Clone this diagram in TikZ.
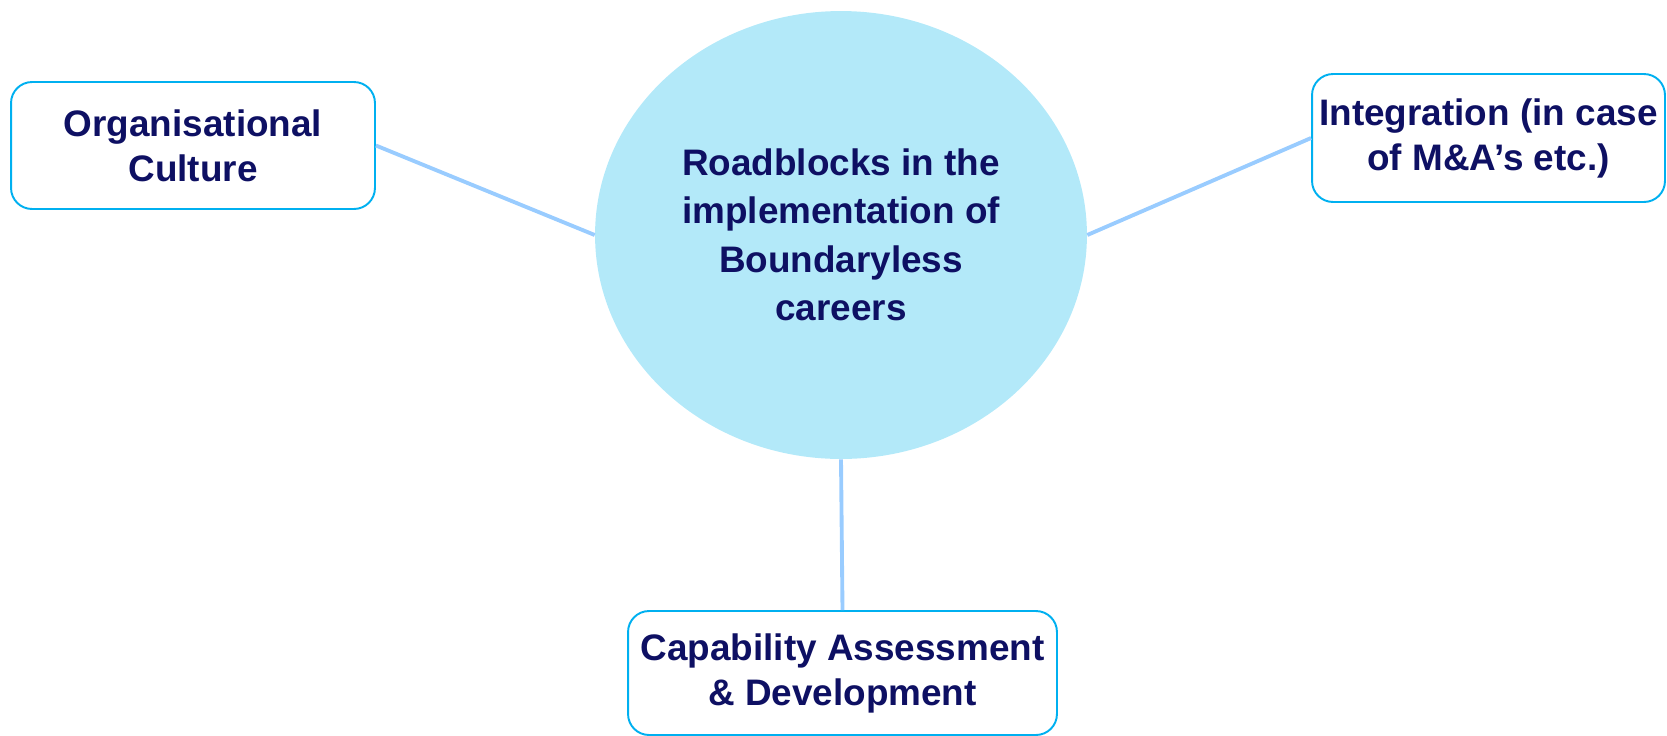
\documentclass[tikz,border=0pt]{standalone}
\usepackage{fontspec}
\setmainfont{Liberation Sans}
\usepackage{tikz}
\usepackage{xcolor}
\usetikzlibrary{shapes.geometric}
\definecolor{navy}{RGB}{14,16,99}
\definecolor{skyfill}{RGB}{179,233,249}
\definecolor{cyanline}{RGB}{0,176,240}
\definecolor{linkblue}{RGB}{153,204,255}

\begin{document}
\begin{tikzpicture}[
  x=0.02cm, y=-0.02cm,
  box/.style={rectangle, draw=cyanline, line width=1.1pt, fill=white, rounded corners=0.42cm,
              align=center, text=navy, font=\fontsize{21}{25.6}\selectfont\bfseries},
  hub/.style={ellipse, fill=skyfill, inner sep=0pt, minimum width=9.84cm, minimum height=8.96cm,
              align=center, text=navy, font=\fontsize{21}{27.6}\selectfont\bfseries},
  link/.style={line width=2.2pt, linkblue}
]
\useasboundingbox (0,0) rectangle (1667,735);

\node[hub] (hub) at (841,235) {Roadblocks in the\\implementation of\\Boundaryless\\careers};
\node[box, minimum width=7.28cm, minimum height=2.54cm] (culture) at (193,145.5)
  {Organisational\\Culture};
\node[box, minimum width=7.06cm, minimum height=2.56cm] (integ) at (1488.5,138)
  {Integration (in case\\of M\&A’s etc.)};
\node[box, minimum width=8.58cm, minimum height=2.48cm] (capab) at (842.5,673)
  {Capability Assessment\\\& Development};

\draw[link] (culture.east)--(hub.west);
\draw[link] (hub.east)--(integ.west);
\draw[link] (hub.south)--(capab.north);
\end{tikzpicture}
\end{document}
